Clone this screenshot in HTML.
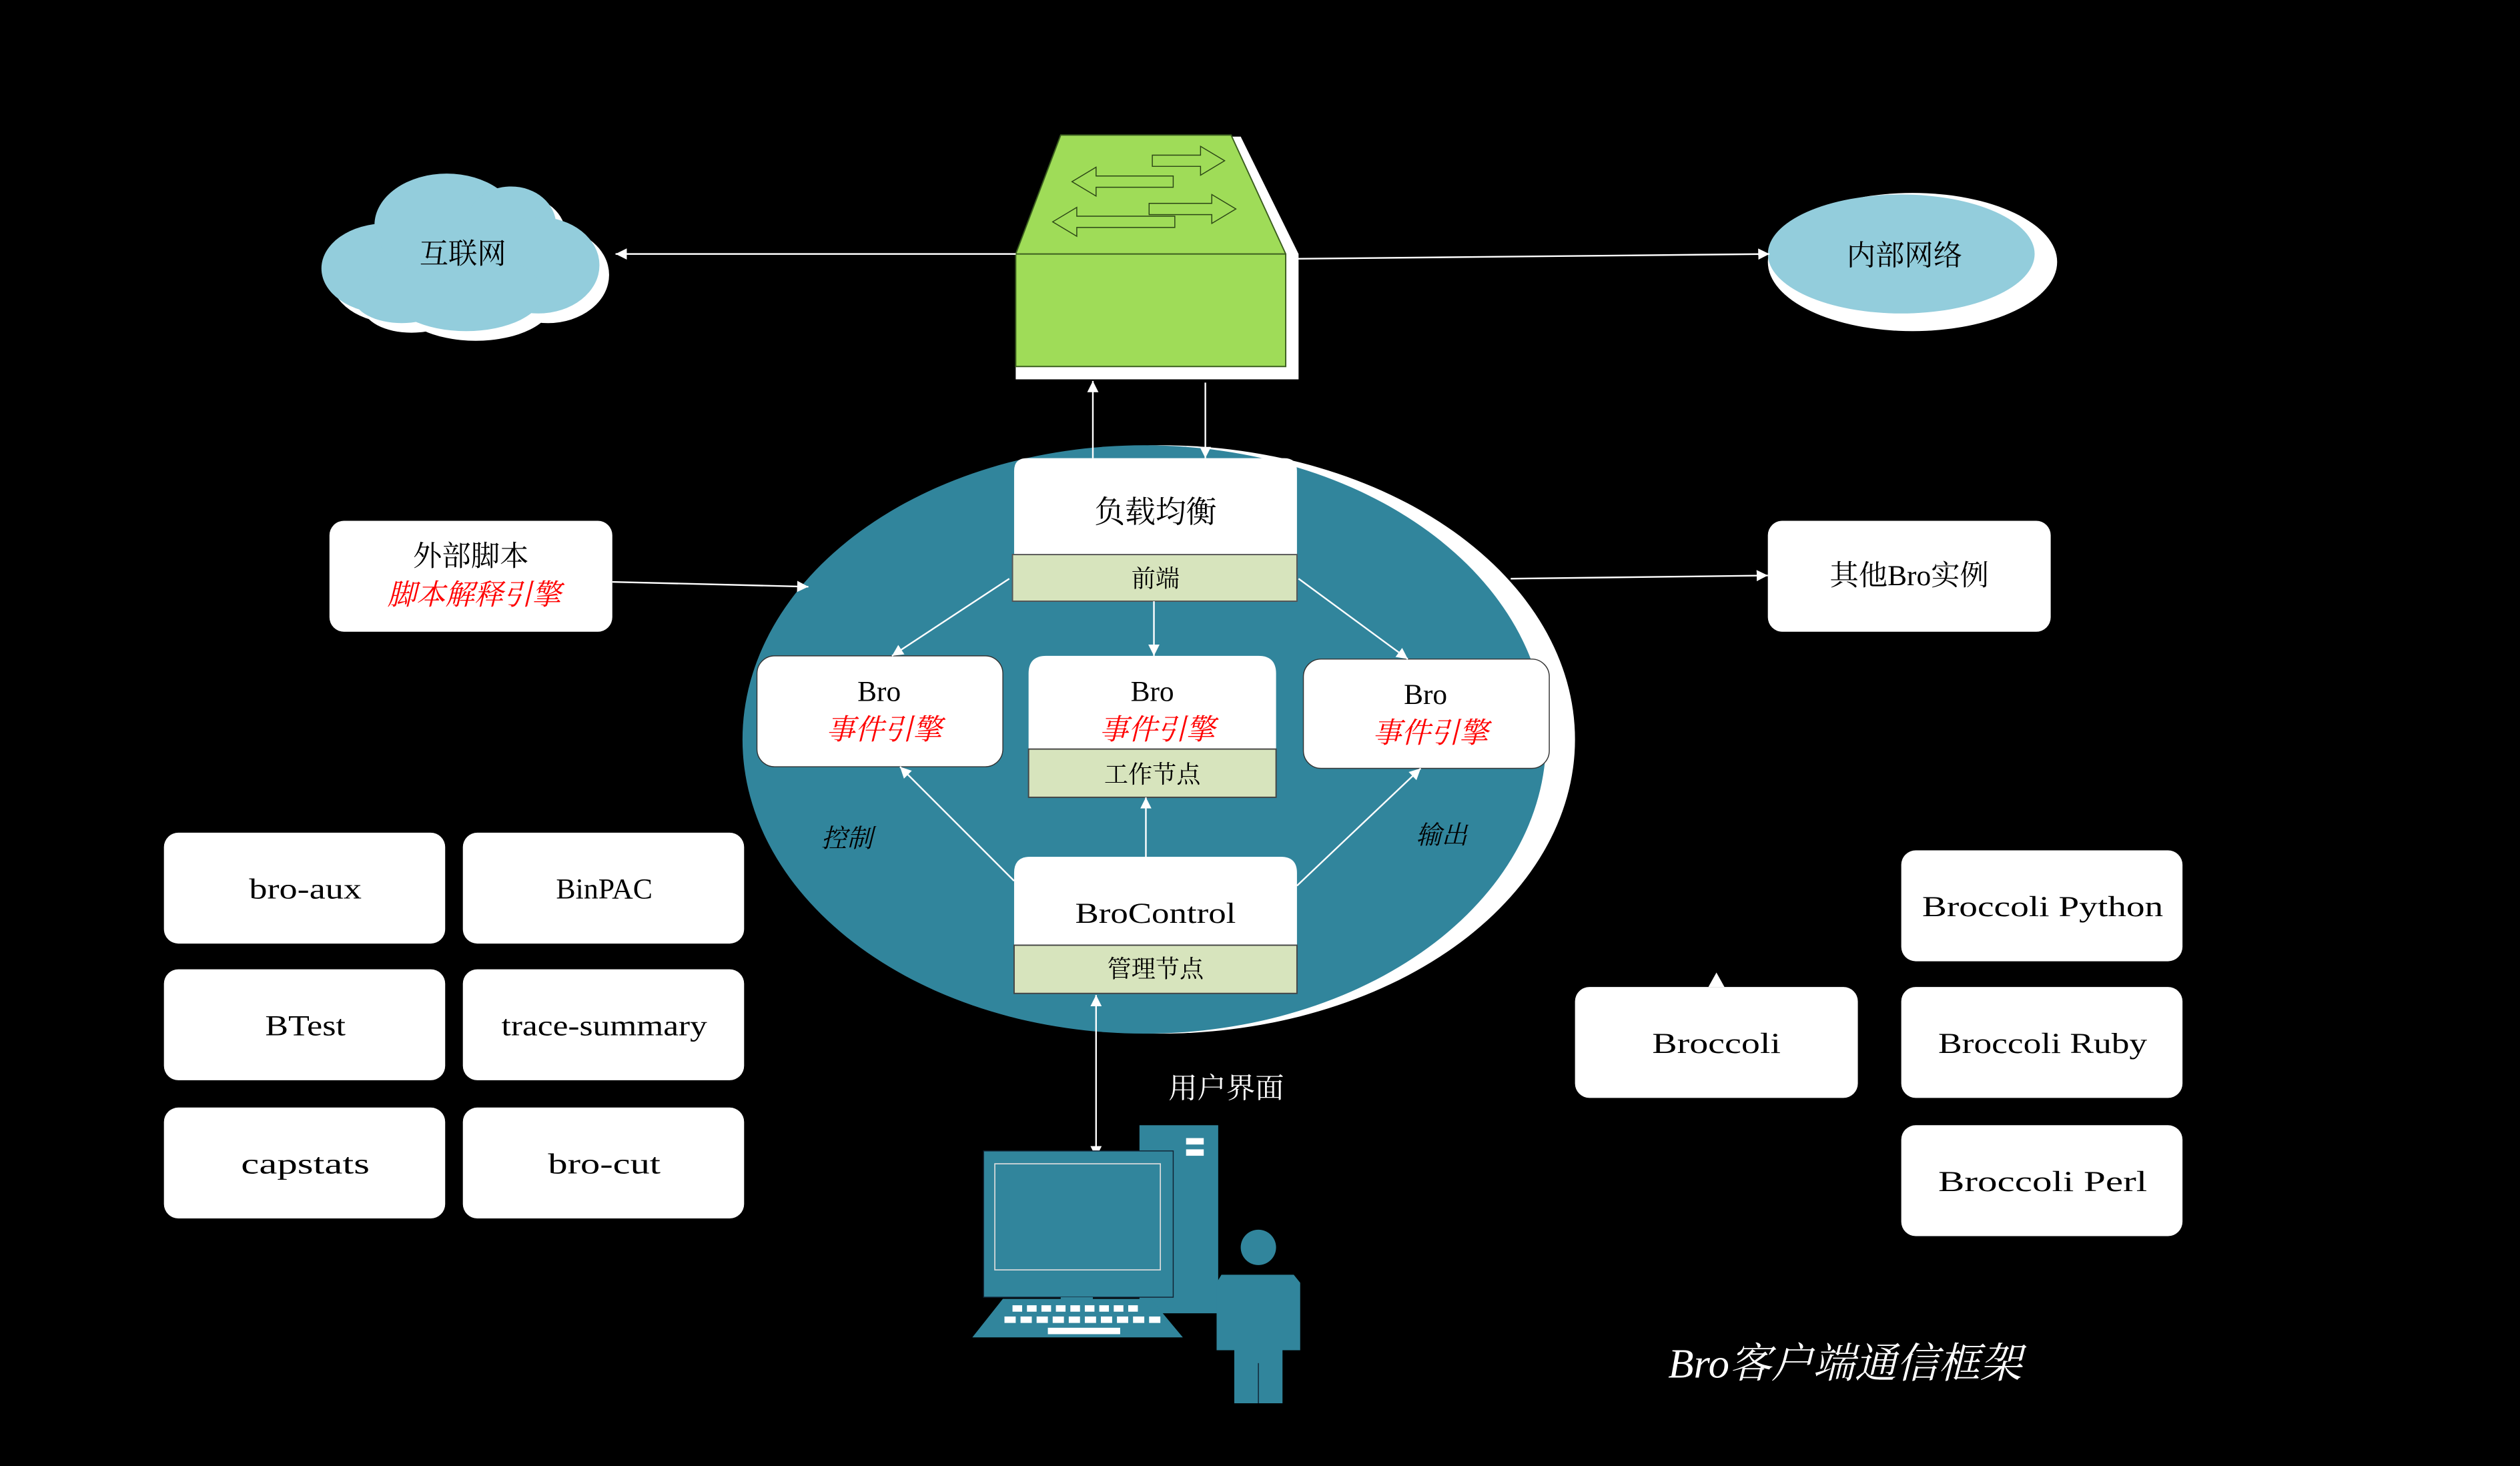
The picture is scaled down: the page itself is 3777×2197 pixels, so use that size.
<!DOCTYPE html>
<html><head><meta charset="utf-8"><style>html,body{margin:0;padding:0;background:#000;}svg{display:block}</style></head>
<body>
<svg width="3777" height="2197" viewBox="0 0 1568 912" preserveAspectRatio="none" xmlns="http://www.w3.org/2000/svg" font-family="'Liberation Serif','Noto Serif CJK SC',serif">
<defs>
<marker id="ah" viewBox="0 0 10 10" refX="10" refY="5" markerWidth="7" markerHeight="7" orient="auto-start-reverse" markerUnits="userSpaceOnUse"><path d="M0,0 L10,5 L0,10z" fill="#fff"/></marker>
</defs>
<rect width="1568" height="912" fill="#000"/>

<!-- cloud -->
<g transform="translate(6,6)" fill="#fff">
<ellipse cx="240" cy="167" rx="40" ry="28"/><ellipse cx="278" cy="140" rx="45" ry="32"/><ellipse cx="318" cy="140" rx="28" ry="24"/><ellipse cx="335" cy="165" rx="38" ry="30"/><ellipse cx="290" cy="182" rx="48" ry="24"/><ellipse cx="250" cy="185" rx="30" ry="16"/>
</g>
<g fill="#93cddc">
<ellipse cx="240" cy="167" rx="40" ry="28"/><ellipse cx="278" cy="140" rx="45" ry="32"/><ellipse cx="318" cy="140" rx="28" ry="24"/><ellipse cx="335" cy="165" rx="38" ry="30"/><ellipse cx="290" cy="182" rx="48" ry="24"/><ellipse cx="250" cy="185" rx="30" ry="16"/>
</g>
<text x="288" y="164" font-size="18" text-anchor="middle">互联网</text>

<!-- internal network -->
<ellipse cx="1190" cy="163" rx="90" ry="43" fill="#fff"/>
<ellipse cx="1183" cy="158" rx="83" ry="37" fill="#93cddc"/>
<text x="1185" y="165" font-size="18" text-anchor="middle">内部网络</text>

<!-- switch -->
<path d="M666,85 L772,85 L808,158 L808,236 L632,236 L632,158 Z" fill="#fff"/>
<path d="M660,84 L766,84 L800,158 L800,228 L632,228 L632,158 Z" fill="#9fdc58" stroke="#3b5e1f" stroke-width="0.8"/>
<line x1="632" y1="158" x2="800" y2="158" stroke="#3b5e1f" stroke-width="0.8"/>
<g fill="#9fdc58" stroke="#2b4515" stroke-width="0.6">
<path d="M717,96.5 L747,96.5 L747,91 L762,100 L747,109 L747,103.5 L717,103.5Z"/>
<path d="M715,126.5 L754,126.5 L754,121 L769,130 L754,139 L754,133.5 L715,133.5Z"/>
<path d="M730,109.5 L682,109.5 L682,104 L667,113 L682,122 L682,116.5 L730,116.5Z"/>
<path d="M731,134.5 L670,134.5 L670,129 L655,138 L670,147 L670,141.5 L731,141.5Z"/>
</g>

<!-- top connectors -->
<line x1="632" y1="158" x2="383" y2="158" stroke="#fff" stroke-width="1" marker-end="url(#ah)"/>
<line x1="806" y1="161" x2="1101" y2="158" stroke="#fff" stroke-width="1" marker-end="url(#ah)"/>

<!-- big ellipse -->
<ellipse cx="722" cy="460" rx="258" ry="183" fill="#fff"/>
<ellipse cx="712" cy="460" rx="250" ry="183" fill="#31859c"/>

<line x1="680" y1="285" x2="680" y2="237" stroke="#fff" stroke-width="1" marker-end="url(#ah)"/>
<line x1="750" y1="238" x2="750" y2="285" stroke="#fff" stroke-width="1" marker-end="url(#ah)"/>

<!-- 负载均衡 -->
<path d="M631,345 L631,293 Q631,285 639,285 L799,285 Q807,285 807,293 L807,345Z" fill="#fff"/>
<rect x="630" y="345" width="177" height="29" fill="#d7e4bd" stroke="#555" stroke-width="0.8"/>
<text x="719" y="325" font-size="19" text-anchor="middle">负载均衡</text>
<text x="719" y="365" font-size="15" text-anchor="middle">前端</text>

<!-- external script -->
<rect x="205" y="324" width="176" height="69" rx="9" fill="#fff"/>
<text x="293" y="352" font-size="18" text-anchor="middle">外部脚本</text>
<text x="295" y="376" font-size="18" text-anchor="middle" fill="#f00" font-style="italic">脚本解释引擎</text>
<line x1="381" y1="362" x2="503" y2="365" stroke="#fff" stroke-width="1" marker-end="url(#ah)"/>

<!-- other bro -->
<rect x="1100" y="324" width="176" height="69" rx="9" fill="#fff"/>
<text x="1188" y="364" font-size="18" text-anchor="middle">其他Bro实例</text>
<line x1="940" y1="360" x2="1100" y2="358" stroke="#fff" stroke-width="1" marker-end="url(#ah)"/>

<!-- Bro boxes -->
<rect x="471" y="408" width="153" height="69" rx="11" fill="#fff" stroke="#333" stroke-width="0.6"/>
<text x="547" y="436" font-size="18" text-anchor="middle">Bro</text>
<text x="550" y="460" font-size="18" text-anchor="middle" fill="#f00" font-style="italic">事件引擎</text>

<path d="M640,466 L640,419 Q640,408 651,408 L783,408 Q794,408 794,419 L794,466Z" fill="#fff"/>
<rect x="640" y="466" width="154" height="30" fill="#d7e4bd" stroke="#444" stroke-width="0.8"/>
<text x="717" y="436" font-size="18" text-anchor="middle">Bro</text>
<text x="720" y="460" font-size="18" text-anchor="middle" fill="#f00" font-style="italic">事件引擎</text>
<text x="717" y="487" font-size="15" text-anchor="middle">工作节点</text>

<rect x="811" y="410" width="153" height="68" rx="11" fill="#fff" stroke="#333" stroke-width="0.6"/>
<text x="887" y="438" font-size="18" text-anchor="middle">Bro</text>
<text x="890" y="462" font-size="18" text-anchor="middle" fill="#f00" font-style="italic">事件引擎</text>

<line x1="628" y1="360" x2="555" y2="408" stroke="#fff" stroke-width="1" marker-end="url(#ah)"/>
<line x1="718" y1="374" x2="718" y2="408" stroke="#fff" stroke-width="1" marker-end="url(#ah)"/>
<line x1="808" y1="360" x2="876" y2="410" stroke="#fff" stroke-width="1" marker-end="url(#ah)"/>

<!-- BroControl -->
<path d="M631,588 L631,543 Q631,533 641,533 L797,533 Q807,533 807,543 L807,588Z" fill="#fff"/>
<rect x="631" y="588" width="176" height="30" fill="#d7e4bd" stroke="#444" stroke-width="0.8"/>
<text x="719" y="574" font-size="18" text-anchor="middle" textLength="100" lengthAdjust="spacingAndGlyphs">BroControl</text>
<text x="719" y="608" font-size="15" text-anchor="middle">管理节点</text>

<line x1="631" y1="548" x2="560" y2="477" stroke="#fff" stroke-width="1" marker-end="url(#ah)"/>
<line x1="713" y1="533" x2="713" y2="496" stroke="#fff" stroke-width="1" marker-end="url(#ah)"/>
<line x1="807" y1="551" x2="884" y2="478" stroke="#fff" stroke-width="1" marker-end="url(#ah)"/>

<text x="527" y="527" font-size="16" text-anchor="middle" font-style="italic">控制</text>
<text x="897" y="525" font-size="16" text-anchor="middle" font-style="italic">输出</text>

<line x1="682" y1="619" x2="682" y2="720" stroke="#fff" stroke-width="1" marker-start="url(#ah)" marker-end="url(#ah)"/>
<text x="763" y="683" font-size="18" fill="#fff" text-anchor="middle">用户界面</text>

<!-- computer -->
<rect x="709" y="700" width="49" height="117" fill="#31859c"/>
<rect x="738" y="708" width="11" height="4" fill="#fff"/><rect x="738" y="715" width="11" height="4" fill="#fff"/>
<rect x="612" y="716" width="118" height="91" fill="#31859c" stroke="#123" stroke-width="0.6"/>
<rect x="619" y="724" width="103" height="66" fill="#31859c" stroke="#ddd" stroke-width="0.7"/>
<rect x="660" y="807" width="20" height="3" fill="#31859c"/>
<path d="M624,808 L716,808 L736,832 L605,832Z" fill="#31859c"/>
<g fill="#fff">
<g transform="translate(630,812)"><rect x="0" width="6" height="4"/><rect x="9" width="6" height="4"/><rect x="18" width="6" height="4"/><rect x="27" width="6" height="4"/><rect x="36" width="6" height="4"/><rect x="45" width="6" height="4"/><rect x="54" width="6" height="4"/><rect x="63" width="6" height="4"/><rect x="72" width="6" height="4"/></g>
<g transform="translate(625,819)"><rect x="0" width="7" height="4"/><rect x="10" width="7" height="4"/><rect x="20" width="7" height="4"/><rect x="30" width="7" height="4"/><rect x="40" width="7" height="4"/><rect x="50" width="7" height="4"/><rect x="60" width="7" height="4"/><rect x="70" width="7" height="4"/><rect x="80" width="7" height="4"/><rect x="90" width="7" height="4"/></g>
<rect x="652" y="826" width="45" height="4"/>
</g>
<ellipse cx="783" cy="776" rx="11" ry="11" fill="#31859c"/>
<path d="M760,793 L805,793 L809,798 L809,840 L798,840 L798,873 L768,873 L768,840 L757,840 L757,798Z" fill="#31859c"/>
<line x1="783" y1="848" x2="783" y2="873" stroke="#123" stroke-width="0.6"/>

<!-- tool boxes -->
<g fill="#fff">
<rect x="102" y="518" width="175" height="69" rx="9"/><rect x="288" y="518" width="175" height="69" rx="9"/>
<rect x="102" y="603" width="175" height="69" rx="9"/><rect x="288" y="603" width="175" height="69" rx="9"/>
<rect x="102" y="689" width="175" height="69" rx="9"/><rect x="288" y="689" width="175" height="69" rx="9"/>
<rect x="1183" y="529" width="175" height="69" rx="9"/><rect x="1183" y="614" width="175" height="69" rx="9"/>
<rect x="1183" y="700" width="175" height="69" rx="9"/><rect x="980" y="614" width="176" height="69" rx="9"/>
</g>
<g font-size="18" text-anchor="middle">
<text x="190" y="559" textLength="70" lengthAdjust="spacingAndGlyphs">bro-aux</text>
<text x="376" y="559" textLength="60" lengthAdjust="spacingAndGlyphs">BinPAC</text>
<text x="190" y="644" textLength="50" lengthAdjust="spacingAndGlyphs">BTest</text>
<text x="376" y="644" textLength="128" lengthAdjust="spacingAndGlyphs">trace-summary</text>
<text x="190" y="730" textLength="80" lengthAdjust="spacingAndGlyphs">capstats</text>
<text x="376" y="730" textLength="70" lengthAdjust="spacingAndGlyphs">bro-cut</text>
<text x="1271" y="570" textLength="150" lengthAdjust="spacingAndGlyphs">Broccoli Python</text>
<text x="1271" y="655" textLength="130" lengthAdjust="spacingAndGlyphs">Broccoli Ruby</text>
<text x="1271" y="741" textLength="130" lengthAdjust="spacingAndGlyphs">Broccoli Perl</text>
<text x="1068" y="655" textLength="80" lengthAdjust="spacingAndGlyphs">Broccoli</text>
</g>
<path d="M1063,614 L1068,605 L1073,614Z" fill="#fff"/>

<text x="1148" y="857" font-size="26" fill="#fff" text-anchor="middle" font-style="italic">Bro客户端通信框架</text>
</svg>
</body></html>
